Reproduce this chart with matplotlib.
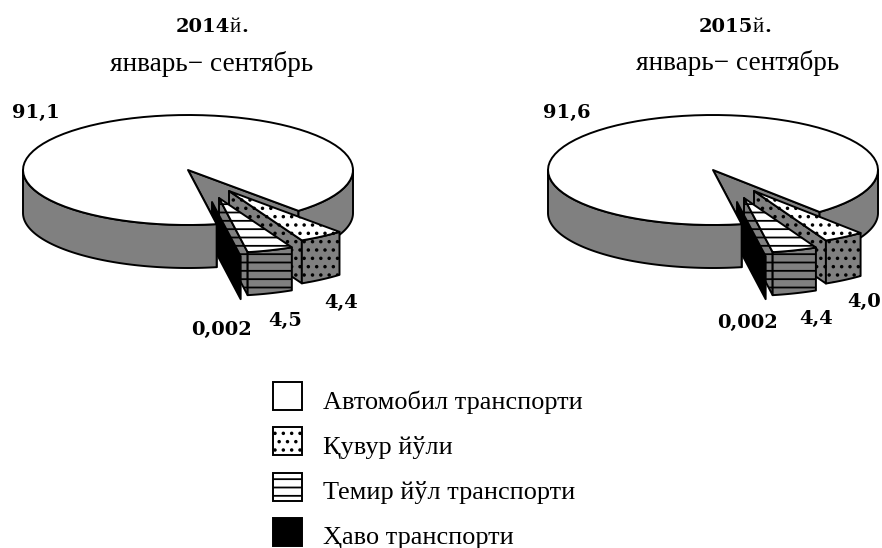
import numpy as np
import matplotlib
matplotlib.use('Agg')
import matplotlib.pyplot as plt
from matplotlib.patches import Polygon, Rectangle

categories = ['Автомобил транспорти', 'Қувур йўли', 'Темир йўл транспорти', 'Ҳаво транспорти']
values_2014 = [91.1, 4.4, 4.5, 0.002]
values_2015 = [91.6, 4.0, 4.4, 0.002]
labels_2014 = ['91,1', '4,4', '4,5', '0,002']
labels_2015 = ['91,6', '4,0', '4,4', '0,002']

RX, RY, DEPTH = 165, 55, 43
GAP_END = 80  # degrees, where the car slice starts, screen clockwise
GRAY = '#808080'
SERIF = 'Liberation Serif'
BOLD = 'DejaVu Serif'

plt.rcParams['hatch.linewidth'] = 1.3


def arc(cx, cy, t0, t1):
    t = np.radians(np.linspace(t0, t1, 80))
    return np.column_stack([cx + RX * np.cos(t), cy + RY * np.sin(t)])


def poly(ax, points, face, hatch=None, z=1):
    ax.add_patch(Polygon(points, closed=True, facecolor=face, edgecolor='black',
                         linewidth=1.4, hatch=hatch, zorder=z, joinstyle='round'))


def side(ax, cx, cy, t0, t1, face, hatch=None, z=1):
    top = arc(cx, cy, t0, t1)
    poly(ax, np.vstack([top, top[::-1] + [0, DEPTH]]), face, hatch, z)


def wall(ax, cx, cy, t, face, hatch=None, z=1):
    outer = arc(cx, cy, t, t)[0]
    poly(ax, [(cx, cy), outer, outer + [0, DEPTH], (cx, cy + DEPTH)], face, hatch, z)


def wedge(ax, cx, cy, t0, t1, face, hatch=None, z=1):
    poly(ax, np.vstack([[(cx, cy)], arc(cx, cy, t0, t1)]), face, hatch, z)


def pie3d(ax, cx, cy, values):
    total = sum(values)
    spans = [v / total * 360 for v in values]
    rail_start = GAP_END - spans[2]
    pipe_start = rail_start - spans[1]

    # car slice, the two cut walls go behind the pulled out slices
    wall(ax, cx, cy, pipe_start, GRAY, z=1)
    wall(ax, cx, cy, GAP_END, GRAY, z=6)
    side(ax, cx, cy, 0, pipe_start, GRAY, z=1)
    side(ax, cx, cy, GAP_END, 180, GRAY, z=6)
    wedge(ax, cx, cy, GAP_END, pipe_start + 360, 'white', z=7)

    # pipeline
    px, py = cx + 41, cy + 21
    wall(ax, px, py, rail_start, GRAY, '..', z=2)
    side(ax, px, py, pipe_start, rail_start, GRAY, '..', z=2)
    wedge(ax, px, py, pipe_start, rail_start, 'white', '..', z=2)

    # rail
    rx, ry = cx + 31, cy + 28
    wall(ax, rx, ry, GAP_END, GRAY, '--', z=3)
    side(ax, rx, ry, rail_start, GAP_END, GRAY, '--', z=3)
    wedge(ax, rx, ry, rail_start, GAP_END, 'white', '--', z=3)

    # air, almost no angle so only its wall shows
    wall(ax, cx + 24, cy + 32, GAP_END, 'black', z=4)


fig = plt.figure(figsize=(8.82, 5.48), dpi=100)
ax = fig.add_axes([0, 0, 1, 1])
ax.set_xlim(0, 882)
ax.set_ylim(548, 0)
ax.axis('off')

pie3d(ax, 188, 170, values_2014)
pie3d(ax, 713, 170, values_2015)

num = dict(family=BOLD, fontweight='bold', fontsize=14, ha='center', va='center', zorder=10)
for text, x, y in zip(labels_2014, [36, 341, 285, 222], [113, 303, 321, 330]):
    ax.text(x, y, text, **num)
for text, x, y in zip(labels_2015, [567, 864, 816, 747], [113, 302, 319, 323]):
    ax.text(x, y, text, **num)

for year, x, sub_x, sub_y in [('2014', 230, 212, 64), ('2015', 753, 738, 63)]:
    ax.text(x, 27, year, family=BOLD, fontweight='bold', fontsize=14, ha='right', va='center')
    ax.text(x, 27, 'й', family=SERIF, fontsize=15, ha='left', va='center')
    ax.text(x + 11, 27, '.', family=BOLD, fontweight='bold', fontsize=14, ha='left', va='center')
    ax.text(sub_x, sub_y, 'январь− сентябрь', family=SERIF, fontsize=19.6, ha='center', va='center')

swatches = [('white', None), ('white', '..'), ('white', '--'), ('black', None)]
for i, (name, (face, hatch)) in enumerate(zip(categories, swatches)):
    y = 382 + i * 45.3
    ax.add_patch(Rectangle((273, y), 29, 28, facecolor=face, edgecolor='black',
                           linewidth=1.4, hatch=hatch))
    ax.text(323, y + 20, name, family=SERIF, fontsize=18.9, ha='left', va='center')

fig.savefig('out.png', dpi=100)
